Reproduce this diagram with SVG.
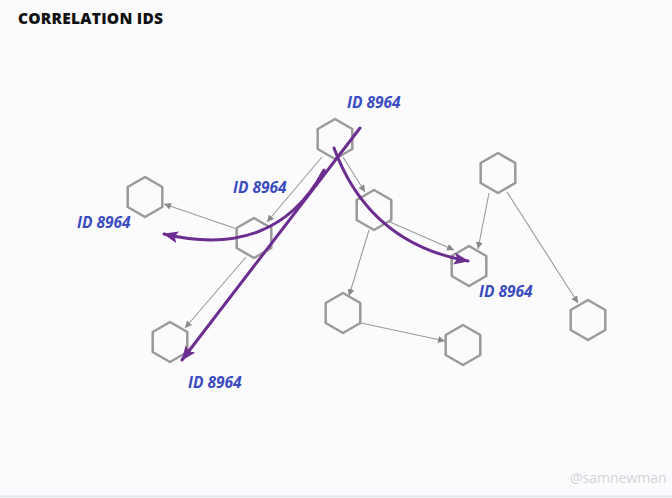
<svg xmlns="http://www.w3.org/2000/svg" width="672" height="498" viewBox="0 0 672 498">
<style>
.hex{fill:none;stroke:#9a9a9a;stroke-width:2.5;stroke-linejoin:round}
.con{stroke:#9a9a9a;stroke-width:1.1;fill:none;marker-end:url(#ga)}
.trace{stroke:#6b2d8f;stroke-width:3;fill:none;marker-end:url(#pa);stroke-linecap:round}
.lbl{font-family:"Open Sans","Liberation Sans",sans-serif;font-weight:700;font-style:italic;font-size:15.5px;fill:#3b4cc0}
</style>
<defs>
<polygon id="h" points="0,-20 17.3,-10 17.3,10 0,20 -17.3,10 -17.3,-10"/>
<marker id="ga" markerUnits="userSpaceOnUse" markerWidth="8" markerHeight="8" refX="7" refY="3.5" orient="auto"><path d="M0,0 L7,3.5 L0,7 z" fill="#8a8a8a"/></marker>
<marker id="pa" markerUnits="userSpaceOnUse" markerWidth="16" markerHeight="14" refX="14" refY="6" orient="auto"><path d="M0,0 L15,6 L0,12 L3,6 z" fill="#6b2d8f"/></marker>
</defs>
<rect width="672" height="498" fill="#fbfbfd"/>
<line x1="0" y1="496.5" x2="672" y2="496.5" stroke="#e4e7ee" stroke-width="2"/>
<text x="18" y="24" font-family="'Open Sans','Liberation Sans',sans-serif" font-weight="800" font-size="15.5" fill="#111" textLength="145">CORRELATION IDS</text>
<text x="570" y="483" font-family="'Open Sans','Liberation Sans',sans-serif" font-size="14" fill="#d4d4d8">@samnewman</text>
<g id="nodes">
<g id="n-hub"><use href="#h" x="335" y="139" class="hex"/></g>
<g id="n-left"><use href="#h" x="145" y="197" class="hex"/></g>
<g id="n-midleft"><use href="#h" x="254" y="238" class="hex"/></g>
<g id="n-botleft"><use href="#h" x="170" y="342" class="hex"/></g>
<g id="n-middle"><use href="#h" x="374" y="210" class="hex"/></g>
<g id="n-righttop"><use href="#h" x="498" y="173" class="hex"/></g>
<g id="n-target"><use href="#h" x="469" y="266" class="hex"/></g>
<g id="n-botmid"><use href="#h" x="343" y="313" class="hex"/></g>
<g id="n-bottom"><use href="#h" x="463" y="345" class="hex"/></g>
<g id="n-rightbot"><use href="#h" x="588" y="320" class="hex"/></g>
</g>
<g id="connectors">
<line class="con" x1="322" y1="157" x2="267" y2="222"/>
<line class="con" x1="237" y1="229" x2="164" y2="204"/>
<line class="con" x1="246" y1="257" x2="185" y2="328"/>
<line class="con" x1="343" y1="157" x2="365" y2="192"/>
<line class="con" x1="390" y1="222" x2="454" y2="250"/>
<line class="con" x1="369" y1="230" x2="349" y2="296"/>
<line class="con" x1="489" y1="193" x2="478" y2="249"/>
<line class="con" x1="507" y1="192" x2="578" y2="303"/>
<line class="con" x1="361" y1="323" x2="445" y2="341"/>
</g>
<g id="traces">
<path class="trace" d="M360,128 L182,360"/>
<path class="trace" d="M324,170 C293,228 240,252 164,234"/>
<path class="trace" d="M334,148 C355,205 395,248 468,261"/>
</g>
<g id="labels">
<text class="lbl" x="347" y="108">ID 8964</text>
<text class="lbl" x="233" y="193">ID 8964</text>
<text class="lbl" x="77" y="228">ID 8964</text>
<text class="lbl" x="479" y="297">ID 8964</text>
<text class="lbl" x="188" y="388">ID 8964</text>
</g>
</svg>
